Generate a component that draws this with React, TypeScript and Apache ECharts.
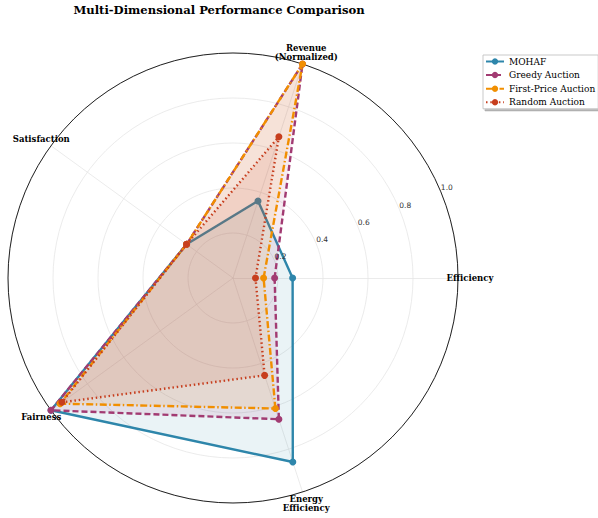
import React, { useEffect, useRef } from "react";
import * as echarts from "echarts";

const indicators = ["Efficiency", "Revenue\n(Normalized)", "Satisfaction", "Fairness", "Energy\nEfficiency"];
const seriesNames = ["MOHAF", "Greedy Auction", "First-Price Auction", "Random Auction"];
const mohaf = [0.265, 0.36, 0.255, 1.0, 0.86];
const greedy = [0.185, 1.0, 0.255, 1.0, 0.66];
const firstPrice = [0.136, 1.0, 0.255, 0.95, 0.61];
const randomAuction = [0.1, 0.66, 0.255, 0.94, 0.455];
const radialTicks = [0.2, 0.4, 0.6, 0.8, 1.0];

const colors = ["#2E86AB", "#A23B72", "#F18F01", "#C73E1D"];
const dashes: any[] = ["solid", [6, 3], [7, 2.5, 1.5, 2.5], [1.5, 2.8]];

export default function App() {
  const ref = useRef<HTMLDivElement>(null);
  useEffect(() => {
    if (!ref.current) return;
    const chart = echarts.init(ref.current, null, { renderer: "svg" });
    const cx = 233, cy = 278, R = 225;
    const values = [mohaf, greedy, firstPrice, randomAuction];
    const serif = "DejaVu Serif";

    const nameTexts = indicators.map((n, i) => {
      const a = (i * 2 * Math.PI) / indicators.length;
      return {
        type: "text",
        x: cx + 237 * Math.cos(a),
        y: cy - 237 * Math.sin(a),
        style: {
          text: n,
          fontFamily: serif,
          fontWeight: "bold",
          fontSize: 8.5,
          lineHeight: 9.5,
          fill: "#000",
          textAlign: "center",
          textVerticalAlign: "middle",
        },
        z: 100,
      };
    });

    const lineDummies = seriesNames.map((n, i) => ({
      type: "line",
      name: n,
      xAxisIndex: 0,
      yAxisIndex: 0,
      data: [],
      symbol: "circle",
      symbolSize: 6,
      itemStyle: { color: colors[i] },
      lineStyle: { color: colors[i], width: 2.2, type: dashes[i] },
    }));

    const radarSeries = seriesNames.map((n, i) => ({
      type: "radar",
      name: n,
      radarIndex: 0,
      symbol: "circle",
      symbolSize: 7,
      z: 10 + i,
      itemStyle: { color: colors[i] },
      lineStyle: { color: colors[i], width: 2.4, type: dashes[i] },
      areaStyle: { color: colors[i], opacity: 0.1 },
      data: [{ name: n, value: values[i] }],
    }));

    chart.setOption({
      animation: false,
      backgroundColor: "#fff",
      title: {
        text: "Multi-Dimensional Performance Comparison",
        left: 219,
        top: 4,
        padding: 0,
        textAlign: "center",
        textStyle: { fontFamily: serif, fontWeight: "bold", fontSize: 11.6, color: "#000" },
      },
      legend: {
        data: seriesNames,
        orient: "vertical",
        left: 483,
        top: 55,
        itemWidth: 18,
        itemHeight: 8,
        itemGap: 4.6,
        padding: [2, 3, 2, 2],
        backgroundColor: "#fff",
        borderColor: "#bbb",
        borderWidth: 0.8,
        borderRadius: 0,
        shadowColor: "rgba(0,0,0,0.35)",
        shadowBlur: 0,
        shadowOffsetX: 2,
        shadowOffsetY: 2,
        textStyle: { fontFamily: serif, fontSize: 9, color: "#000" },
      },
      grid: { left: 0, top: 0, width: 1, height: 1, show: false },
      xAxis: { type: "value", show: false },
      yAxis: { type: "value", show: false },
      polar: { center: [cx, cy], radius: R },
      angleAxis: {
        type: "value",
        startAngle: 22.5,
        min: 0,
        max: 360,
        axisLine: { show: true, lineStyle: { color: "#222", width: 1 } },
        axisTick: { show: false },
        axisLabel: { show: false },
        splitLine: { show: false },
        z: 5,
      },
      radiusAxis: {
        type: "value",
        min: 0,
        max: 1,
        interval: 0.2,
        axisLine: { show: false },
        axisTick: { show: false },
        splitLine: { show: false },
        axisLabel: {
          show: true,
          margin: 0,
          align: "left",
          verticalAlign: "bottom",
          fontFamily: "DejaVu Sans",
          fontSize: 7.5,
          color: "#333",
          formatter: (v: number) => (radialTicks.some((t) => Math.abs(t - v) < 1e-6) ? v.toFixed(1) : ""),
        },
        z: 50,
      },
      radar: {
        center: [cx, cy],
        radius: R,
        startAngle: 0,
        shape: "circle",
        splitNumber: 5,
        indicator: indicators.map((n) => ({ name: n, min: 0, max: 1 })),
        axisName: { show: false },
        splitLine: { lineStyle: { color: "#e6e6e6", width: 0.8 } },
        splitArea: { show: false },
        axisLine: { lineStyle: { color: "#e6e6e6", width: 0.8 } },
        axisTick: { show: false },
        axisLabel: { show: false },
      },
      graphic: nameTexts,
      series: [...lineDummies, ...radarSeries],
    } as any);
    return () => chart.dispose();
  }, []);
  return <div ref={ref} style={{ position: "fixed", left: 0, top: 0, width: 598, height: 518 }} />;
}
